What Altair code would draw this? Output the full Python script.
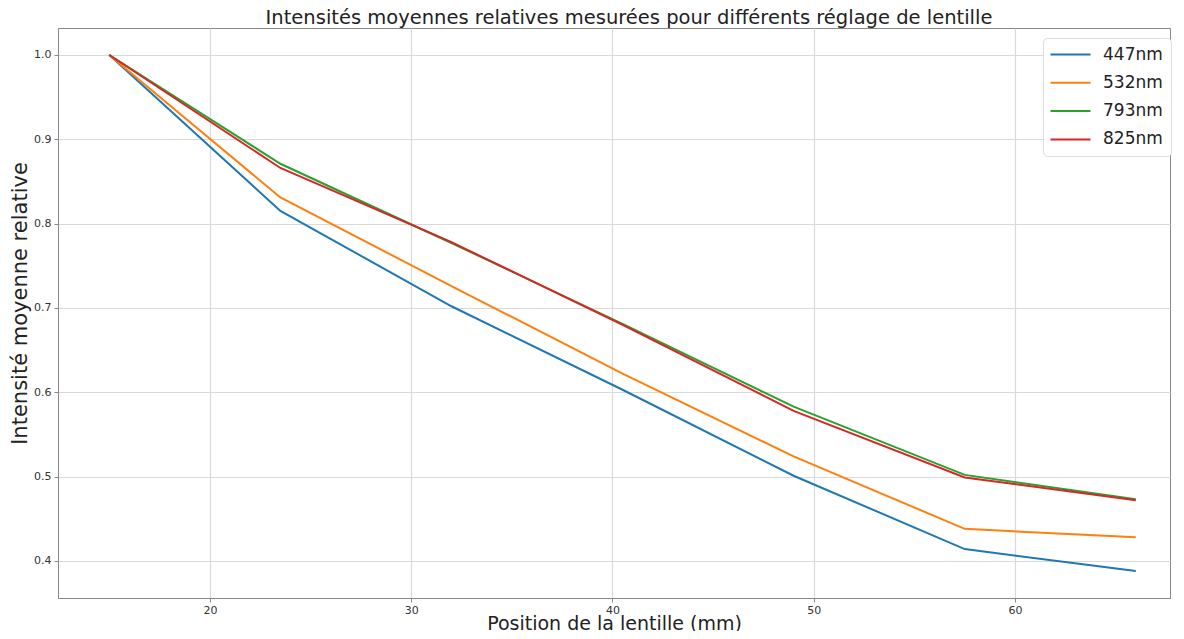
import altair as alt
import pandas as pd

positions = [15, 23.5, 32, 40.5, 49, 57.5, 66]
series_names = ["447nm", "532nm", "793nm", "825nm"]
v447 = [1.0, 0.815, 0.702, 0.603, 0.501, 0.414, 0.388]
v532 = [1.0, 0.831, 0.726, 0.622, 0.524, 0.438, 0.428]
v793 = [1.0, 0.871, 0.777, 0.681, 0.583, 0.502, 0.473]
v825 = [1.0, 0.866, 0.778, 0.680, 0.578, 0.499, 0.472]
colors = ["#1f77b4", "#ff7f0e", "#2ca02c", "#d62728"]
x_ticks = [20, 30, 40, 50, 60]
y_ticks = [0.4, 0.5, 0.6, 0.7, 0.8, 0.9, 1.0]

rows = []
for i, (name, vals) in enumerate(zip(series_names, [v447, v532, v793, v825])):
    for x, y in zip(positions, vals):
        rows.append({"pos": x, "val": y, "serie": name, "ord": i})
df = pd.DataFrame(rows)

FONT = "DejaVu Sans"

chart = alt.Chart(df).mark_line(strokeWidth=2).encode(
    x=alt.X("pos:Q",
            scale=alt.Scale(domain=[12.45, 67.7], nice=False, zero=False),
            axis=alt.Axis(values=x_ticks, title="Position de la lentille (mm)", format="d",
                          titleY=31, titleBaseline="alphabetic", titleFontSize=19)),
    y=alt.Y("val:Q",
            scale=alt.Scale(domain=[0.356, 1.032], nice=False, zero=False),
            axis=alt.Axis(values=y_ticks, title="Intensité moyenne relative", format=".1f",
                          titleX=-32, titleY=275, titleBaseline="alphabetic", titleFontSize=21)),
    color=alt.Color("serie:N",
                    scale=alt.Scale(domain=series_names, range=colors),
                    legend=alt.Legend(title=None, orient="none", legendX=985, legendY=10,
                                      symbolType="M-2.25,0H7.75", symbolSize=64,
                                      symbolStrokeWidth=2, labelFontSize=17,
                                      labelFont=FONT, labelColor="#222222",
                                      rowPadding=10.3, padding=8,
                                      strokeColor="#dddddd", fillColor="white",
                                      cornerRadius=4, labelOffset=35)),
    order=alt.Order("ord:Q"),
).properties(
    width=1112, height=570,
    title=alt.TitleParams("Intensités moyennes relatives mesurées pour différents réglage de lentille",
                          fontSize=19.5, fontWeight="normal", font=FONT, color="#222222",
                          offset=0, dx=15),
    padding={"left": 50, "top": 20, "right": 6, "bottom": 33},
    autosize=alt.AutoSizeParams(type="none"),
).configure_view(
    stroke="#888888", strokeWidth=1
).configure_axis(
    grid=True, gridColor="#d9d9d9", gridWidth=1.2,
    domainColor="#888888", tickColor="#888888", tickSize=4,
    labelFont=FONT, labelFontSize=11, labelColor="#333333",
    titleFont=FONT, titleFontWeight="normal", titleColor="#222222",
).configure_axisY(labelPadding=3).configure_axisX(labelPadding=2)

chart.save("out.html", embed_options={"renderer": "svg", "actions": False})
